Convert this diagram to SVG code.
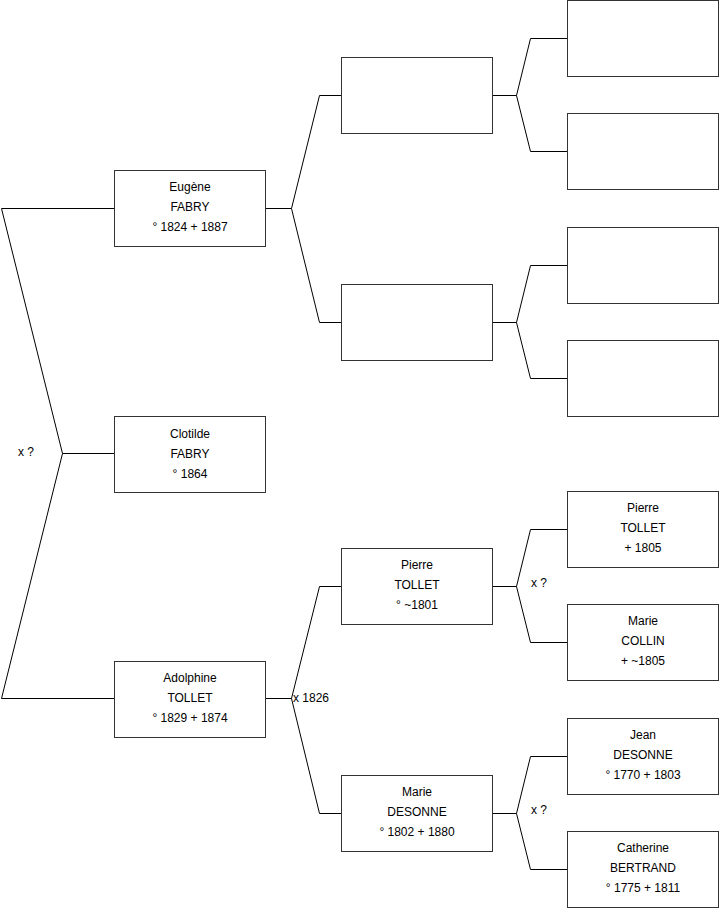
<svg xmlns="http://www.w3.org/2000/svg" width="719" height="908" viewBox="0 0 719 908">
<style>
.b{fill:#fff;stroke:#333;stroke-width:1}
.t{font-family:"Liberation Sans",Arial,sans-serif;font-size:12px;fill:#000;text-anchor:middle}
.l{font-family:"Liberation Sans",Arial,sans-serif;font-size:12px;fill:#000}
.c{fill:none;stroke:#000;stroke-width:1}
</style>
<rect width="719" height="908" fill="#fff"/>
<g id="connectors">
<path class="c" d="M114.5,208.5H1.5L62.5,453.5L1.5,698.5H114.5M62.5,453.5H114.5"/>
<path class="c" d="M265.5,208.5H291.5M341.5,95.5H319.5L291.5,208.5L319.5,322.5H341.5"/>
<path class="c" d="M265.5,698.5H291.5M341.5,586.5H319.5L291.5,698.5L319.5,813.5H341.5"/>
<path class="c" d="M492.5,95.5H516.5M567.5,38.5H530.5L516.5,95.5L530.5,151.5H567.5"/>
<path class="c" d="M492.5,322.5H516.5M567.5,265.5H530.5L516.5,322.5L530.5,378.5H567.5"/>
<path class="c" d="M492.5,586.5H516.5M567.5,529.5H530.5L516.5,586.5L530.5,642.5H567.5"/>
<path class="c" d="M492.5,813.5H516.5M567.5,756.5H530.5L516.5,813.5L530.5,869.5H567.5"/>
<text class="l" x="18" y="456">x ?</text>
<text class="l" x="293" y="702">x 1826</text>
<text class="l" x="531" y="587">x ?</text>
<text class="l" x="531" y="814">x ?</text>
</g>
<g id="eugene"><rect class="b" x="114.5" y="170.5" width="151" height="76"/>
<text class="t" x="190" y="191">Eugène</text><text class="t" x="190" y="211">FABRY</text><text class="t" x="190" y="231">° 1824 + 1887</text></g>
<g id="clotilde"><rect class="b" x="114.5" y="416.5" width="151" height="76"/>
<text class="t" x="190" y="438">Clotilde</text><text class="t" x="190" y="458">FABRY</text><text class="t" x="190" y="478">° 1864</text></g>
<g id="adolphine"><rect class="b" x="114.5" y="661.5" width="151" height="76"/>
<text class="t" x="190" y="682">Adolphine</text><text class="t" x="190" y="702">TOLLET</text><text class="t" x="190" y="722">° 1829 + 1874</text></g>
<g id="f1"><rect class="b" x="341.5" y="57.5" width="151" height="76"/></g>
<g id="m1"><rect class="b" x="341.5" y="284.5" width="151" height="76"/></g>
<g id="pierre1"><rect class="b" x="341.5" y="548.5" width="151" height="76"/>
<text class="t" x="417" y="569">Pierre</text><text class="t" x="417" y="589">TOLLET</text><text class="t" x="417" y="609">° ~1801</text></g>
<g id="marie1"><rect class="b" x="341.5" y="775.5" width="151" height="76"/>
<text class="t" x="417" y="796">Marie</text><text class="t" x="417" y="816">DESONNE</text><text class="t" x="417" y="836">° 1802 + 1880</text></g>
<g id="ff"><rect class="b" x="567.5" y="0.5" width="151" height="76"/></g>
<g id="fm"><rect class="b" x="567.5" y="113.5" width="151" height="76"/></g>
<g id="mf"><rect class="b" x="567.5" y="227.5" width="151" height="76"/></g>
<g id="mm"><rect class="b" x="567.5" y="340.5" width="151" height="76"/></g>
<g id="pierre2"><rect class="b" x="567.5" y="491.5" width="151" height="76"/>
<text class="t" x="643" y="512">Pierre</text><text class="t" x="643" y="532">TOLLET</text><text class="t" x="643" y="552">+ 1805</text></g>
<g id="collin"><rect class="b" x="567.5" y="604.5" width="151" height="76"/>
<text class="t" x="643" y="625">Marie</text><text class="t" x="643" y="645">COLLIN</text><text class="t" x="643" y="665">+ ~1805</text></g>
<g id="jean"><rect class="b" x="567.5" y="718.5" width="151" height="76"/>
<text class="t" x="643" y="739">Jean</text><text class="t" x="643" y="759">DESONNE</text><text class="t" x="643" y="779">° 1770 + 1803</text></g>
<g id="catherine"><rect class="b" x="567.5" y="831.5" width="151" height="76"/>
<text class="t" x="643" y="852">Catherine</text><text class="t" x="643" y="872">BERTRAND</text><text class="t" x="643" y="892">° 1775 + 1811</text></g>
</svg>
